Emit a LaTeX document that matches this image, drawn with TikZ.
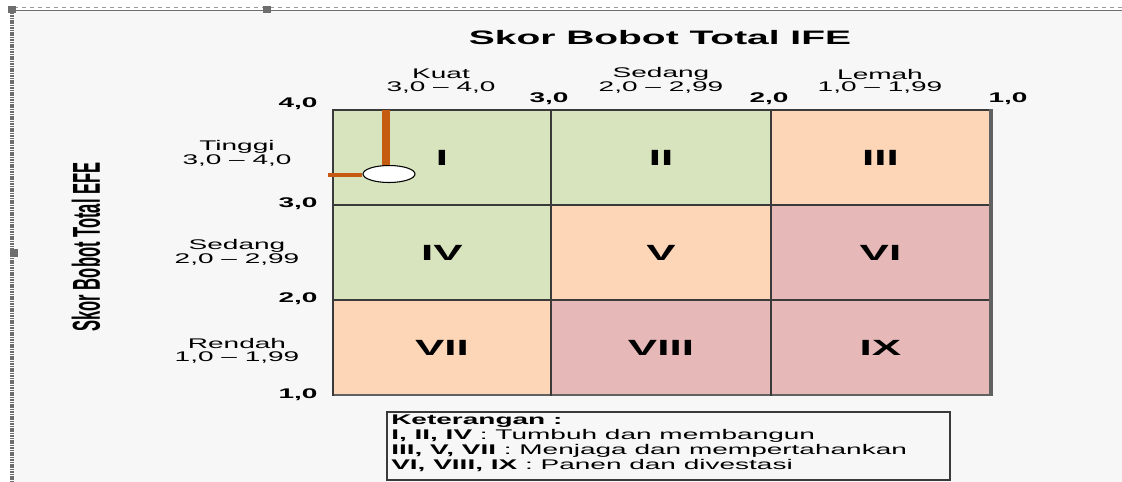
\documentclass[tikz,border=0pt]{standalone}
\usepackage{fontspec}
\setmainfont{Liberation Sans}
\usetikzlibrary{shapes.geometric}
\definecolor{bg}{HTML}{F7F7F7}
\definecolor{cgreen}{HTML}{D7E4BD}
\definecolor{cpeach}{HTML}{FCD6B6}
\definecolor{cpink}{HTML}{E6B9B8}
\definecolor{corange}{HTML}{C55A11}
\definecolor{gridc}{HTML}{3A3A3A}
\definecolor{framec}{HTML}{6E6E6E}
\newcommand\stx[1]{\scalebox{2}[1]{#1}}
\tikzset{
  cell/.style={draw=none, minimum width=164.5pt, minimum height=71.25pt, inner sep=0pt,
    font=\fontsize{16.5}{18}\selectfont\bfseries},
  lbl/.style={inner sep=0pt, font=\fontsize{10.5}{12}\selectfont},
  tick/.style={inner sep=0pt, font=\fontsize{10.5}{12}\selectfont\bfseries},
  legtxt/.style={inner sep=0pt, anchor=west, font=\fontsize{10.5}{12}\selectfont},
  vline/.style={gridc, line width=2pt},
  hline/.style={gridc, line width=1.1pt},
  orangeline/.style={corange},
}
\begin{document}
\begin{tikzpicture}[x=0.75pt, y=-0.75pt]
\useasboundingbox (0,0) rectangle (1122,482);
% background and frame
\fill[white] (0,0) rectangle (1122,482);
\fill[bg] (12,10) rectangle (1122,482);
\draw[framec!70, dashed, line width=0.6pt] (14,7) -- (1122,7);
\draw[framec, line width=1.4pt] (12,10.5) -- (1122,10.5);
\draw[framec, line width=2.6pt, dash pattern=on 1.2pt off 0.6pt] (12,8) -- (12,482);
\fill[framec] (8,6) rectangle (16,13);
\fill[framec] (263,6) rectangle (271,13);
\fill[framec] (10,249) rectangle (18,257);

% title and axis label
\node[inner sep=0pt, font=\fontsize{14.6}{16}\selectfont\bfseries] (title) at (660,38) {\stx{Skor Bobot Total IFE}};
\node[inner sep=0pt, rotate=90, font=\fontsize{14.6}{16}\selectfont\bfseries] (ylab) at (86,247) {\scalebox{0.85}[2]{Skor Bobot Total EFE}};

% cells
\node[cell, fill=cgreen] (c11) at (442,157.5) {\stx{I}};
\node[cell, fill=cgreen] (c12) at (661,157.5) {\stx{II}};
\node[cell, fill=cpeach] (c13) at (880.5,157.5) {\stx{III}};
\node[cell, fill=cgreen] (c21) at (442,252.5) {\stx{IV}};
\node[cell, fill=cpeach] (c22) at (661,252.5) {\stx{V}};
\node[cell, fill=cpink] (c23) at (880.5,252.5) {\stx{VI}};
\node[cell, fill=cpeach] (c31) at (442,347.5) {\stx{VII}};
\node[cell, fill=cpink] (c32) at (661,347.5) {\stx{VIII}};
\node[cell, fill=cpink] (c33) at (880.5,347.5) {\stx{IX}};

% grid lines
\draw[hline] (333,110) -- (991,110);
\draw[hline] (333,205) -- (991,205);
\draw[hline] (333,300) -- (991,300);
\draw[gridc!80, line width=1.8pt] (333,395) -- (992,395);
\draw[vline] (333,109) -- (333,396);
\draw[vline] (551,109) -- (551,396);
\draw[vline] (771,109) -- (771,396);
\draw[gridc!80, line width=2.6pt] (991,109) -- (991,396);

% column headers
\node[lbl] (kuat) at (441,74) {\stx{Kuat}};
\node[lbl] (kuatr) at (441,88) {\stx{3,0 -- 4,0}};
\node[lbl] (sedc) at (661,74) {\stx{Sedang}};
\node[lbl] (sedcr) at (661,88) {\stx{2,0 -- 2,99}};
\node[lbl] (lemah) at (880,74) {\stx{Lemah}};
\node[lbl] (lemahr) at (880,88) {\stx{1,0 -- 1,99}};

% top ticks
\node[tick] (tx4) at (298,104) {\stx{4,0}};
\node[tick] (tx3) at (549,99) {\stx{3,0}};
\node[tick] (tx2) at (769,99) {\stx{2,0}};
\node[tick] (tx1) at (1008,99) {\stx{1,0}};

% left ticks
\node[tick] (ty3) at (298,204) {\stx{3,0}};
\node[tick] (ty2) at (298,299) {\stx{2,0}};
\node[tick] (ty1) at (298,395) {\stx{1,0}};

% row labels
\node[lbl] (tinggi) at (237,147) {\stx{Tinggi}};
\node[lbl] (tinggir) at (237,161) {\stx{3,0 -- 4,0}};
\node[lbl] (sedr) at (237,246) {\stx{Sedang}};
\node[lbl] (sedrr) at (237,260) {\stx{2,0 -- 2,99}};
\node[lbl] (rendah) at (237,343) {\stx{Rendah}};
\node[lbl] (rendahr) at (237,358) {\stx{1,0 -- 1,99}};

% position marker
\node[ellipse, draw=black, fill=white, line width=0.8pt, minimum width=39pt, minimum height=12.75pt, inner sep=0pt] (pt) at (389,174) {};
\coordinate (otop) at (386,110);
\coordinate (oleft) at (328,175);
\draw[orangeline, line width=5.5pt] (otop) -- (otop |- pt.north);
\draw[orangeline, line width=2.8pt] (oleft) -- (oleft -| pt.west);

% legend
\node[draw=gridc, line width=1.6pt, fill=bg, minimum width=422pt, minimum height=51pt, inner sep=0pt] (leg) at (668.5,446) {};
\node[legtxt] (l0) at (391,421) {\stx{\bfseries Keterangan :}};
\node[legtxt] (l1) at (391,436) {\stx{\textbf{I, II, IV} : Tumbuh dan membangun}};
\node[legtxt] (l2) at (391,451) {\stx{\textbf{III, V, VII} : Menjaga dan mempertahankan}};
\node[legtxt] (l3) at (391,466) {\stx{\textbf{VI, VIII, IX} : Panen dan divestasi}};
\end{tikzpicture}
\end{document}
